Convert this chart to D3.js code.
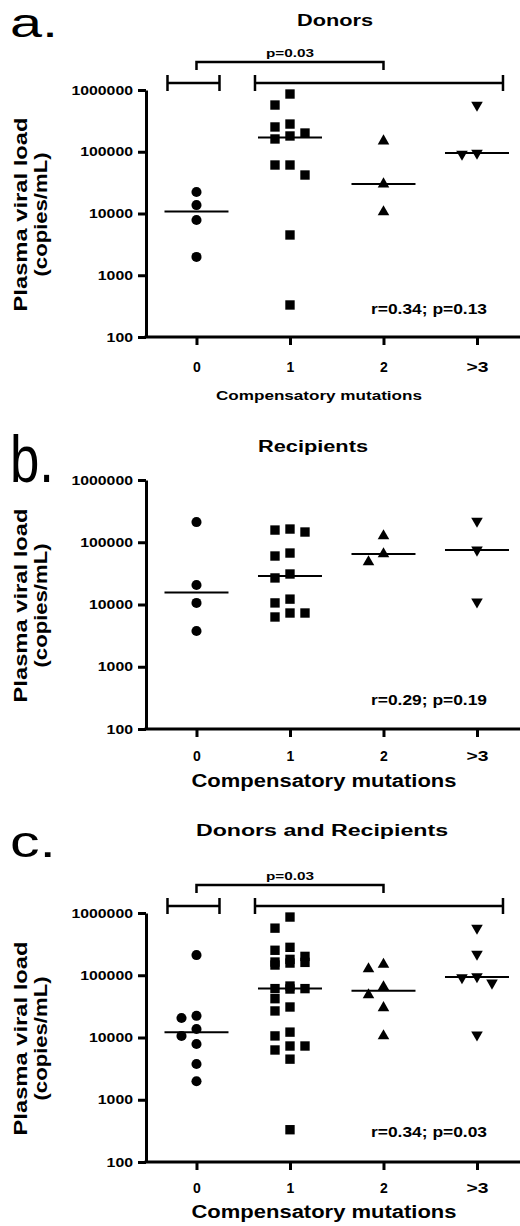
<!DOCTYPE html>
<html lang="en">
<head>
<meta charset="UTF-8">
<title>Plasma viral load vs compensatory mutations</title>
<script src="https://d3js.org/d3.v7.min.js"></script>
<style>
  body { margin: 0; background: #fff; }
  text { font-family: "Liberation Sans", Arial, sans-serif; fill: #000; }
</style>
</head>
<body>
<script>
// categories on the x axis
var categories = ["0", "1", "2", ">3"];
var yTickValues = [100, 1000, 10000, 100000, 1000000];

// donors, one list per category (copies/mL)
var donors0 = [22300, 13700, 7850, 1980];
var donors1 = [861000, 571000, 281000, 252000, 201000, 180000, 161000, 61000, 61000, 42000, 4490, 330];
var donors2 = [149000, 30000, 10600];
var donors3 = [571000, 95500, 92000];

// recipients
var recipients0 = [211000, 20600, 10600, 3750];
var recipients1 = [163000, 157000, 146000, 67100, 60100, 30900, 26700, 12200, 10600, 7300, 7300, 6300];
var recipients2 = [126000, 64700, 48200];
var recipients3 = [219000, 75200, 11000];

var statTexts = ["r=0.34; p=0.13", "r=0.29; p=0.19", "r=0.34; p=0.03"];
var bracketText = "p=0.03";

var donors = [donors0, donors1, donors2, donors3];
var recipients = [recipients0, recipients1, recipients2, recipients3];
var combined = donors.map(function(d, i) { return d.concat(recipients[i]); });

var panels = [
  {label: "a.", labelSize: 40, labelLen: 48, labelY: 37, title: "Donors", titleX: 335, titleY: 26, titleLen: 76,
   top: 90, bottom: 337, groups: donors, stat: statTexts[0], statY: 314, brackets: true,
   xTitleSize: 12.5, xTitleY: 400, xTitleLen: 206, xTitleX: 319, tickPad: 17},
  {label: "b.", labelSize: 66, labelLen: 44, labelY: 482, title: "Recipients", titleX: 313, titleY: 452, titleLen: 110,
   top: 480, bottom: 729, groups: recipients, stat: statTexts[1], statY: 705, brackets: false,
   xTitleSize: 18, xTitleY: 787, xTitleLen: 265, xTitleX: 324, tickPad: 14},
  {label: "c.", labelSize: 44, labelLen: 46, labelY: 857, title: "Donors and Recipients", titleX: 322, titleY: 836, titleLen: 252,
   top: 913, bottom: 1162, groups: combined, stat: statTexts[2], statY: 1137, brackets: true,
   xTitleSize: 18, xTitleY: 1218, xTitleLen: 265, xTitleX: 324, tickPad: 13}
];

var symbols = [d3.symbolCircle, d3.symbolSquare, d3.symbolTriangle, d3.symbolTriangle];
var symSizes = [80, 88, 58, 58];

var svg = d3.select("body").append("svg")
  .attr("width", 520)
  .attr("height", 1226);

function addText(g, str, x, y, size, opts) {
  opts = opts || {};
  var t = g.append("text")
    .attr("x", x)
    .attr("y", y)
    .attr("font-size", size)
    .attr("font-weight", opts.weight || "bold")
    .attr("text-anchor", opts.anchor || "start")
    .text(str);
  if (opts.len) t.attr("textLength", opts.len).attr("lengthAdjust", "spacingAndGlyphs");
  if (opts.rotate) t.attr("transform", "rotate(" + opts.rotate + "," + x + "," + y + ")");
  return t;
}

// beeswarm in three columns: centre, left, right
function swarm(pts, step, minD) {
  var placed = [];
  pts.sort(function(a, b) { return a.y - b.y; });
  pts.forEach(function(p) {
    var best = null, bestD = -1;
    [0, -1, 1].some(function(k) {
      var dx = k * step;
      var dmin = d3.min(placed, function(q) {
        var ddx = q.dx - dx, ddy = q.y - p.y;
        return Math.sqrt(ddx * ddx + ddy * ddy);
      });
      if (dmin === undefined) dmin = Infinity;
      if (dmin > bestD) { bestD = dmin; best = dx; }
      return dmin >= minD;
    });
    p.dx = best;
    placed.push(p);
  });
  return pts;
}

panels.forEach(function(P) {
  var g = svg.append("g");

  var x = d3.scalePoint()
    .domain(categories)
    .range([146, 520])
    .padding(0.5)
    .align(0.54);

  var y = d3.scaleLog()
    .domain([100, 1000000])
    .range([P.bottom, P.top]);

  // y axis
  var yAxis = g.append("g")
    .attr("transform", "translate(146,0)")
    .call(d3.axisLeft(y).tickValues(yTickValues).tickFormat(d3.format("d")).tickSize(8).tickSizeOuter(0).tickPadding(5));
  yAxis.select(".domain").attr("stroke-width", 3);
  yAxis.selectAll(".tick line").attr("stroke-width", 3);
  yAxis.selectAll(".tick text")
    .attr("font-size", 13)
    .attr("font-weight", "bold")
    .attr("font-family", "Liberation Sans, Arial, sans-serif")
    .attr("textLength", function(d) { return String(d).length * 8.8; })
    .attr("lengthAdjust", "spacingAndGlyphs");

  // x axis
  var xAxis = g.append("g")
    .attr("transform", "translate(0," + P.bottom + ")")
    .call(d3.axisBottom(x).tickSize(8).tickSizeOuter(0).tickPadding(P.tickPad));
  xAxis.select(".domain").attr("stroke-width", 3).attr("d", "M144.5,0H520");
  xAxis.selectAll(".tick line").attr("stroke-width", 3);
  xAxis.selectAll(".tick text")
    .attr("font-size", 14)
    .attr("font-weight", "bold")
    .attr("font-family", "Liberation Sans, Arial, sans-serif")
    .each(function(d) {
      if (d.length > 1) d3.select(this).attr("textLength", 22).attr("lengthAdjust", "spacingAndGlyphs");
    });

  // titles and labels
  addText(g, P.label, 10, P.labelY, P.labelSize, {weight: "normal", len: P.labelLen});
  addText(g, P.title, P.titleX, P.titleY, 16, {anchor: "middle", len: P.titleLen});
  addText(g, "Compensatory mutations", P.xTitleX, P.xTitleY, P.xTitleSize, {anchor: "middle", len: P.xTitleLen});
  addText(g, P.stat, 371, P.statY, 14, {len: 116});
  var cy = (P.top + P.bottom) / 2 + 1;
  addText(g, "Plasma viral load", 27, cy, 17.5, {anchor: "middle", len: 194, rotate: -90});
  addText(g, "(copies/mL)", 47, cy, 17.5, {anchor: "middle", len: 124, rotate: -90});

  // significance brackets
  if (P.brackets) {
    var by = P.top - 28, ly = P.top - 7;
    g.append("path")
      .attr("d", "M" + x("0") + "," + (by + 8) + "V" + by + "H" + x("2") + "V" + (by + 8))
      .attr("fill", "none").attr("stroke", "#000").attr("stroke-width", 2.5);
    addText(g, bracketText, (x("0") + x("2")) / 2, P.top - 33, 11, {anchor: "middle", len: 48});
    [[x("0") - 29, x("0") + 23], [x("1") - 35, x(">3") + 26]].forEach(function(b) {
      g.append("path")
        .attr("d", "M" + b[0] + "," + ly + "H" + b[1] +
                   "M" + b[0] + "," + (ly - 8) + "V" + (ly + 8) +
                   "M" + b[1] + "," + (ly - 8) + "V" + (ly + 8))
        .attr("fill", "none").attr("stroke", "#000").attr("stroke-width", 2.5);
    });
  }

  // points + medians
  P.groups.forEach(function(vals, gi) {
    var cx = x(categories[gi]);
    var pts = swarm(vals.map(function(v) { return {v: v, y: y(v), dx: 0}; }), 15, 12);
    var sym = d3.symbol().type(symbols[gi]).size(symSizes[gi]);
    g.selectAll(".pt" + gi)
      .data(pts)
      .enter()
      .append("path")
      .attr("d", sym)
      .attr("fill", "#000")
      .attr("transform", function(d) {
        return "translate(" + (cx + d.dx) + "," + d.y + ")" + (gi === 3 ? " rotate(180)" : "");
      });
    var my = y(d3.median(vals));
    g.append("line")
      .attr("x1", cx - 32).attr("x2", cx + 32)
      .attr("y1", my).attr("y2", my)
      .attr("stroke", "#000").attr("stroke-width", 2);
  });
});
</script>
</body>
</html>
